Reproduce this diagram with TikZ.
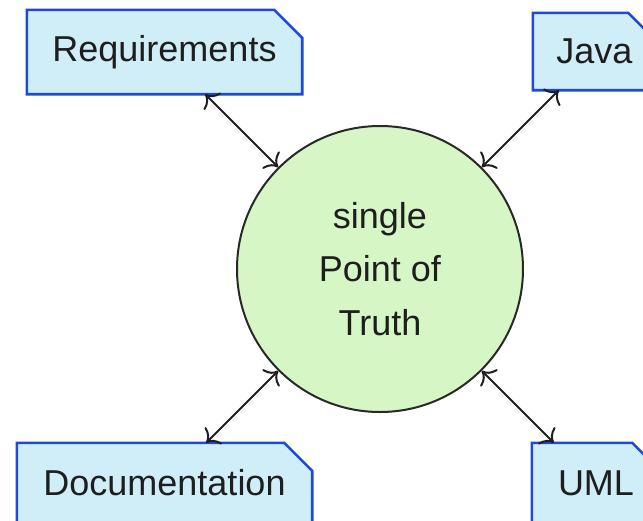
\documentclass[tikz,border=0pt]{standalone}
\usepackage{fontspec}
\setmainfont{Liberation Sans}
\usetikzlibrary{arrows.meta,backgrounds}

\definecolor{docfill}{RGB}{208,238,248}
\definecolor{docline}{RGB}{30,72,222}
\definecolor{hubfill}{RGB}{214,246,198}
\definecolor{hubline}{RGB}{40,40,40}
\definecolor{inkgray}{RGB}{30,30,30}

\tikzset{
  doclabel/.style={inner sep=0pt, text=inkgray, font=\fontsize{36}{43}\selectfont},
  docbox/.style={fill=docfill, draw=docline, line width=2.6pt, line join=miter},
  hub/.style={circle, fill=hubfill, draw=hubline, line width=2pt,
    minimum size=286pt, inner sep=0pt, align=center, text=inkgray,
    font=\fontsize{36}{53.5}\selectfont},
  cmtip/.tip={Computer Modern Rightarrow[length=11pt,width=24pt,line width=2pt]},
  link/.style={line width=2pt, draw=black!88, cmtip-cmtip}
}

% chamfered document outline drawn behind a label node
\newcommand{\docoutline}[1]{%
  \path[docbox] (#1.south west) -- (#1.north west)
    -- ([xshift=-28pt]#1.north east) -- ([yshift=-28pt]#1.north east)
    -- (#1.south east) -- cycle;}

\begin{document}
\begin{tikzpicture}[x=1pt,y=-1pt]
  \useasboundingbox (0,0) rectangle (643,520);

  \node[hub] (truth) at (380,269) {single\\Point of\\Truth};

  \node[doclabel, minimum width=275pt, minimum height=84pt] (req) at (164.5,52) {Requirements};
  \node[doclabel, minimum width=123pt, minimum height=77pt] (java) at (594.5,51.5) {Java};
  \node[doclabel, minimum width=295pt, minimum height=80pt] (doc) at (164.5,483) {Documentation};
  \node[doclabel, minimum width=128pt, minimum height=80pt] (uml) at (596,483) {UML};

  \begin{scope}[on background layer]
    \docoutline{req}
    \docoutline{java}
    \docoutline{doc}
    \docoutline{uml}
  \end{scope}

  \draw[link] (truth.135) -- (intersection cs: first line={(truth.center)--(truth.135)},
      second line={(req.south west)--(req.south east)});
  \draw[link] (truth.45) -- (intersection cs: first line={(truth.center)--(truth.45)},
      second line={(java.south west)--(java.south east)});
  \draw[link] (truth.225) -- (intersection cs: first line={(truth.center)--(truth.225)},
      second line={(doc.north west)--(doc.north east)});
  \draw[link] (truth.315) -- (intersection cs: first line={(truth.center)--(truth.315)},
      second line={(uml.north west)--(uml.north east)});
\end{tikzpicture}
\end{document}
